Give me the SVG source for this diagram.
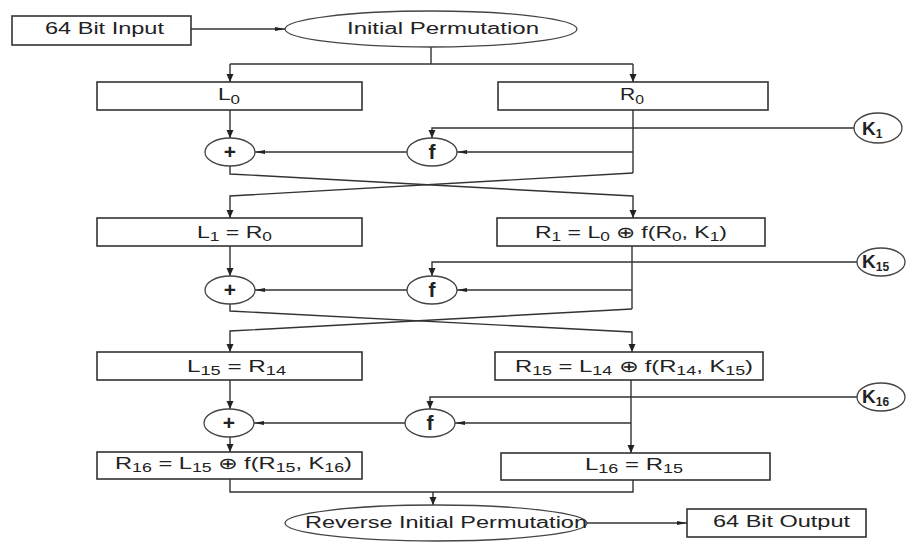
<svg xmlns="http://www.w3.org/2000/svg" width="907" height="552" viewBox="0 0 907 552">
  <style>
    .box { fill: #fff; stroke: #333; stroke-width: 1.6; }
    .node { fill: #fff; stroke: #444; stroke-width: 1.3; }
    .wire { fill: none; stroke: #333; stroke-width: 1.4; }
    text { font-family: "Liberation Sans", Arial, sans-serif; font-size: 16px; fill: #222; }
    .op { font-weight: bold; font-size: 21px; text-anchor: middle; }
    .key { font-weight: bold; font-size: 19px; }
    .sub { font-size: 12px; }
  </style>
  <defs>
    <marker id="down" markerUnits="userSpaceOnUse" markerWidth="8" markerHeight="8" refX="8" refY="3.5" orient="auto">
      <path d="M0,0 L8,3.5 L0,7 z" fill="#222"/>
    </marker>
    <marker id="side" markerUnits="userSpaceOnUse" markerWidth="10" markerHeight="6" refX="10" refY="2" orient="auto">
      <path d="M0,0 L10,2 L0,4 z" fill="#222"/>
    </marker>
  </defs>

  <!-- connectors -->
  <g id="connectors">
    <path class="wire" d="M191,29 H285" marker-end="url(#side)"/>
    <path class="wire" d="M431,47 V64"/>
    <path class="wire" d="M230,64 H633"/>
    <path class="wire" d="M230,64 V82" marker-end="url(#down)"/>
    <path class="wire" d="M633,64 V82" marker-end="url(#down)"/>

    <!-- round 1 -->
    <path class="wire" d="M230,110 V138" marker-end="url(#down)"/>
    <path class="wire" d="M633,110 V173"/>
    <path class="wire" d="M854,128 H432 V138" marker-end="url(#down)"/>
    <path class="wire" d="M633,152 H457" marker-end="url(#side)"/>
    <path class="wire" d="M407,152 H255" marker-end="url(#side)"/>
    <path class="wire" d="M230,166 V174 L633,196 V218" marker-end="url(#down)"/>
    <path class="wire" d="M633,173 L230,196 V218" marker-end="url(#down)"/>

    <!-- round 2 -->
    <path class="wire" d="M230,246 V276" marker-end="url(#down)"/>
    <path class="wire" d="M632,246 V309"/>
    <path class="wire" d="M858,262 H432 V276" marker-end="url(#down)"/>
    <path class="wire" d="M632,290 H457" marker-end="url(#side)"/>
    <path class="wire" d="M407,290 H255" marker-end="url(#side)"/>
    <path class="wire" d="M230,304 V311 L632,332 V352" marker-end="url(#down)"/>
    <path class="wire" d="M632,309 L230,331 V352" marker-end="url(#down)"/>

    <!-- round 16 -->
    <path class="wire" d="M230,380 V409" marker-end="url(#down)"/>
    <path class="wire" d="M631,380 V453" marker-end="url(#down)"/>
    <path class="wire" d="M858,397 H430 V409" marker-end="url(#down)"/>
    <path class="wire" d="M631,423 H455" marker-end="url(#side)"/>
    <path class="wire" d="M405,423 H254" marker-end="url(#side)"/>
    <path class="wire" d="M230,437 V452" marker-end="url(#down)"/>

    <!-- output -->
    <path class="wire" d="M230,479 V492 H633 V480"/>
    <path class="wire" d="M433,492 V505" marker-end="url(#down)"/>
    <path class="wire" d="M586,523 H687" marker-end="url(#side)"/>
  </g>

  <g id="input">
    <rect class="box" x="12" y="16" width="179" height="29"/>
    <text x="45" y="34" textLength="119" lengthAdjust="spacingAndGlyphs">64 Bit Input</text>
  </g>
  <g id="initial-permutation">
    <ellipse class="node" cx="431" cy="29" rx="146" ry="18"/>
    <text x="347" y="34" textLength="192" lengthAdjust="spacingAndGlyphs">Initial Permutation</text>
  </g>

  <g id="l0">
    <rect class="box" x="97" y="82" width="265" height="28"/>
    <text x="218" y="100" textLength="22" lengthAdjust="spacingAndGlyphs">L<tspan class="sub" dy="4">0</tspan></text>
  </g>
  <g id="r0">
    <rect class="box" x="498" y="82" width="270" height="28"/>
    <text x="620" y="100" textLength="24" lengthAdjust="spacingAndGlyphs">R<tspan class="sub" dy="4">0</tspan></text>
  </g>

  <g id="xor1">
    <ellipse class="node" cx="230" cy="152" rx="25" ry="14"/>
    <text class="op" x="230" y="159">+</text>
  </g>
  <g id="f1">
    <ellipse class="node" cx="432" cy="152" rx="25" ry="14"/>
    <text class="op" x="432" y="159">f</text>
  </g>
  <g id="k1">
    <ellipse class="node" cx="878" cy="128" rx="24" ry="15"/>
    <text class="key" x="862" y="135">K<tspan class="sub" dy="3">1</tspan></text>
  </g>

  <g id="l1">
    <rect class="box" x="97" y="218" width="265" height="28"/>
    <text x="197" y="238" textLength="75" lengthAdjust="spacingAndGlyphs">L<tspan class="sub" dy="3">1</tspan><tspan dy="-3"> = R</tspan><tspan class="sub" dy="3">0</tspan></text>
  </g>
  <g id="r1">
    <rect class="box" x="497" y="218" width="268" height="28"/>
    <text x="535" y="238" textLength="192" lengthAdjust="spacingAndGlyphs">R<tspan class="sub" dy="3">1</tspan><tspan dy="-3"> = L</tspan><tspan class="sub" dy="3">0</tspan><tspan dy="-3"> ⊕ f(R</tspan><tspan class="sub" dy="3">0</tspan><tspan dy="-3">, K</tspan><tspan class="sub" dy="3">1</tspan><tspan dy="-3">)</tspan></text>
  </g>

  <g id="xor2">
    <ellipse class="node" cx="230" cy="290" rx="25" ry="14"/>
    <text class="op" x="230" y="297">+</text>
  </g>
  <g id="f2">
    <ellipse class="node" cx="432" cy="290" rx="25" ry="14"/>
    <text class="op" x="432" y="297">f</text>
  </g>
  <g id="k15">
    <ellipse class="node" cx="881" cy="262" rx="24" ry="14"/>
    <text class="key" x="862" y="268">K<tspan class="sub" dy="3">15</tspan></text>
  </g>

  <g id="l15">
    <rect class="box" x="97" y="352" width="265" height="28"/>
    <text x="187" y="372" textLength="99" lengthAdjust="spacingAndGlyphs">L<tspan class="sub" dy="3">15</tspan><tspan dy="-3"> = R</tspan><tspan class="sub" dy="3">14</tspan></text>
  </g>
  <g id="r15">
    <rect class="box" x="495" y="352" width="268" height="28"/>
    <text x="515" y="372" textLength="238" lengthAdjust="spacingAndGlyphs">R<tspan class="sub" dy="3">15</tspan><tspan dy="-3"> = L</tspan><tspan class="sub" dy="3">14</tspan><tspan dy="-3"> ⊕ f(R</tspan><tspan class="sub" dy="3">14</tspan><tspan dy="-3">, K</tspan><tspan class="sub" dy="3">15</tspan><tspan dy="-3">)</tspan></text>
  </g>

  <g id="xor16">
    <ellipse class="node" cx="229" cy="423" rx="25" ry="14"/>
    <text class="op" x="229" y="430">+</text>
  </g>
  <g id="f16">
    <ellipse class="node" cx="430" cy="423" rx="25" ry="14"/>
    <text class="op" x="430" y="430">f</text>
  </g>
  <g id="k16">
    <ellipse class="node" cx="881" cy="397" rx="24" ry="14"/>
    <text class="key" x="862" y="403">K<tspan class="sub" dy="3">16</tspan></text>
  </g>

  <g id="r16">
    <rect class="box" x="97" y="452" width="265" height="27"/>
    <text x="115" y="469" textLength="237" lengthAdjust="spacingAndGlyphs">R<tspan class="sub" dy="3">16</tspan><tspan dy="-3"> = L</tspan><tspan class="sub" dy="3">15</tspan><tspan dy="-3"> ⊕ f(R</tspan><tspan class="sub" dy="3">15</tspan><tspan dy="-3">, K</tspan><tspan class="sub" dy="3">16</tspan><tspan dy="-3">)</tspan></text>
  </g>
  <g id="l16">
    <rect class="box" x="501" y="453" width="269" height="27"/>
    <text x="585" y="470" textLength="98" lengthAdjust="spacingAndGlyphs">L<tspan class="sub" dy="3">16</tspan><tspan dy="-3"> = R</tspan><tspan class="sub" dy="3">15</tspan></text>
  </g>

  <g id="reverse-initial-permutation">
    <ellipse class="node" cx="436" cy="523" rx="151" ry="18"/>
    <text x="305" y="528" textLength="282" lengthAdjust="spacingAndGlyphs">Reverse Initial Permutation</text>
  </g>
  <g id="output">
    <rect class="box" x="687" y="509" width="179" height="28"/>
    <text x="713" y="527" textLength="137" lengthAdjust="spacingAndGlyphs">64 Bit Output</text>
  </g>
</svg>
